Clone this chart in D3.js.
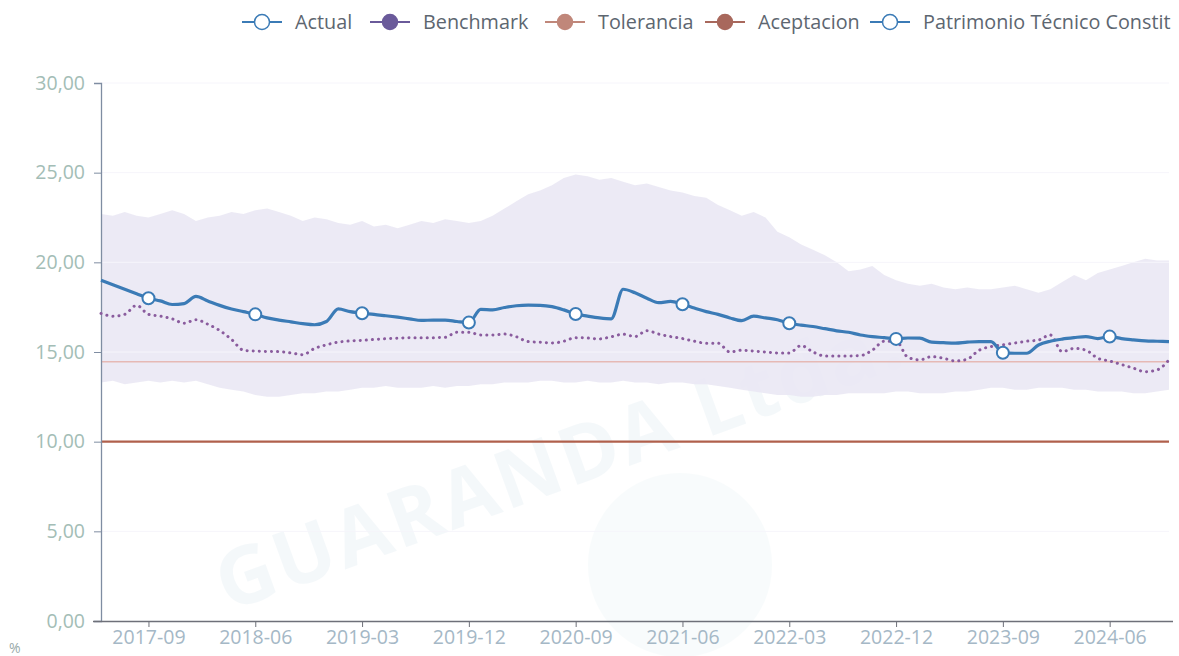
<!DOCTYPE html>
<html lang="es">
<head>
<meta charset="UTF-8">
<title>Patrimonio Técnico</title>
<script src="https://d3js.org/d3.v7.min.js"></script>
<style>
  body { margin: 0; background: #fff; font-family: "Open Sans", "Noto Sans", sans-serif; }
  svg { display: block; }
</style>
</head>
<body>
<svg id="chart" width="1179" height="656"></svg>
<script>
// monthly categories 2017-05 .. 2024-11
const months = [];
for (let k = 0; k < 91; k++) {
  const tot = 2017 * 12 + 4 + k;
  months.push(`${Math.floor(tot / 12)}-${String(tot % 12 + 1).padStart(2, "0")}`);
}

const tickLabels = ["2017-09", "2018-06", "2019-03", "2019-12", "2020-09",
  "2021-06", "2022-03", "2022-12", "2023-09", "2024-06"];
const yTicks = [0, 5, 10, 15, 20, 25, 30];

const actual = [19.0, 18.75, 18.5, 18.25, 18.0, 17.85, 17.65, 17.7, 18.1, 17.85,
  17.6, 17.4, 17.25, 17.1, 16.9, 16.78, 16.68, 16.58, 16.52, 16.7,
  17.4, 17.25, 17.16, 17.1, 17.02, 16.94, 16.85, 16.76, 16.78, 16.78,
  16.7, 16.64, 17.38, 17.35, 17.48, 17.58, 17.61, 17.6, 17.53, 17.35,
  17.12, 17.0, 16.9, 16.85, 18.5, 18.3, 18.0, 17.75, 17.82, 17.66,
  17.45, 17.25, 17.1, 16.9, 16.75, 17.0, 16.9, 16.8, 16.6, 16.5,
  16.42, 16.3, 16.18, 16.1, 15.95, 15.86, 15.8, 15.73, 15.78, 15.77,
  15.55, 15.52, 15.5, 15.55, 15.58, 15.58, 14.96, 14.93, 14.93, 15.39,
  15.6, 15.72, 15.8, 15.86, 15.75, 15.86, 15.75, 15.68, 15.62, 15.6, 15.58];

const benchmark = [17.15, 17.0, 17.1, 17.6, 17.1, 17.0, 16.85, 16.6, 16.8, 16.55,
  16.2, 15.7, 15.1, 15.05, 15.03, 15.02, 14.95, 14.85, 15.2, 15.4,
  15.55, 15.62, 15.65, 15.7, 15.74, 15.77, 15.8, 15.8, 15.8, 15.82,
  16.1, 16.1, 15.95, 15.95, 16.0, 15.85, 15.58, 15.55, 15.5, 15.6,
  15.8, 15.78, 15.73, 15.85, 15.99, 15.86, 16.19, 16.0, 15.86, 15.75,
  15.6, 15.49, 15.49, 15.0, 15.1, 15.05, 15.0, 14.95, 14.95, 15.36,
  15.0, 14.78, 14.78, 14.78, 14.8, 15.1, 15.6, 15.6, 14.7, 14.56,
  14.74, 14.65, 14.5, 14.6, 15.1, 15.3, 15.4, 15.5, 15.6, 15.67,
  15.95, 15.02, 15.2, 15.1, 14.65, 14.5, 14.3, 14.1, 13.9, 14.0, 14.56];

const tolerancia = 14.45;
const aceptacion = 10.0;

const bandUpper = [22.7, 22.6, 22.8, 22.6, 22.5, 22.7, 22.9, 22.7, 22.3, 22.5,
  22.6, 22.8, 22.7, 22.9, 23.0, 22.8, 22.6, 22.3, 22.5, 22.4,
  22.2, 22.1, 22.3, 22.0, 22.1, 21.9, 22.1, 22.3, 22.2, 22.4,
  22.3, 22.2, 22.3, 22.6, 23.0, 23.4, 23.8, 24.0, 24.3, 24.7,
  24.9, 24.8, 24.6, 24.7, 24.5, 24.3, 24.4, 24.2, 24.0, 23.9,
  23.7, 23.6, 23.2, 22.9, 22.6, 22.8, 22.5, 21.7, 21.4, 21.0,
  20.7, 20.4, 20.0, 19.5, 19.6, 19.8, 19.3, 19.0, 18.8, 18.7,
  18.8, 18.6, 18.5, 18.6, 18.5, 18.5, 18.6, 18.7, 18.5, 18.3,
  18.5, 18.9, 19.3, 19.0, 19.4, 19.6, 19.8, 20.0, 20.2, 20.1, 20.1];

const bandLower = [13.3, 13.4, 13.2, 13.3, 13.4, 13.3, 13.4, 13.3, 13.4, 13.2,
  13.0, 12.9, 12.8, 12.6, 12.5, 12.5, 12.6, 12.7, 12.7, 12.8,
  12.8, 12.9, 13.0, 13.0, 13.1, 13.0, 13.0, 13.0, 13.1, 13.0,
  13.1, 13.1, 13.2, 13.2, 13.3, 13.3, 13.3, 13.4, 13.4, 13.3,
  13.3, 13.4, 13.3, 13.3, 13.4, 13.3, 13.3, 13.2, 13.3, 13.3,
  13.2, 13.2, 13.1, 13.0, 12.9, 12.8, 12.7, 12.6, 12.6, 12.5,
  12.5, 12.6, 12.6, 12.7, 12.7, 12.7, 12.7, 12.8, 12.8, 12.7,
  12.7, 12.7, 12.8, 12.8, 12.9, 13.0, 13.0, 12.9, 12.9, 13.0,
  13.0, 13.0, 12.9, 12.9, 12.8, 12.8, 12.8, 12.7, 12.7, 12.8, 12.9];

const legendItems = [
  { name: "Actual", color: "#3b7bb6", hollow: true, x: 242 },
  { name: "Benchmark", color: "#6a5a9a", hollow: false, x: 370 },
  { name: "Tolerancia", color: "#c0877a", hollow: false, x: 545 },
  { name: "Aceptacion", color: "#a8685c", hollow: false, x: 705 },
  { name: "Patrimonio Técnico Constit", color: "#3b7bb6", hollow: true, x: 870 }
];

const svg = d3.select("#chart");
const plotLeft = 101, plotRight = 1169, plotTop = 83, plotBottom = 621;

const x = d3.scalePoint().domain(months).range([plotLeft, plotRight]);
const y = d3.scaleLinear().domain([0, 30]).range([plotBottom, plotTop]);

const rows = months.map((m, i) => ({
  m, actual: actual[i], bench: benchmark[i], hi: bandUpper[i], lo: bandLower[i]
}));

// faint watermark behind the chart
const wm = svg.append("g").attr("opacity", 0.22);
wm.append("circle").attr("cx", 680).attr("cy", 565).attr("r", 92).attr("fill", "#e2f1f3");
wm.append("text")
  .attr("transform", "translate(228,612) rotate(-20)")
  .attr("font-size", 80).attr("font-weight", 700)
  .attr("fill", "#cfe2ec").attr("letter-spacing", 3)
  .text("GUARANDA Ltda.");

// band
svg.append("path")
  .datum(rows)
  .attr("fill", "#e9e6f3")
  .attr("opacity", 0.85)
  .attr("d", d3.area().x(d => x(d.m)).y0(d => y(d.lo)).y1(d => y(d.hi)));

// faint split lines
svg.append("g")
  .selectAll("line")
  .data(yTicks.filter(t => t > 0))
  .join("line")
  .attr("x1", plotLeft).attr("x2", plotRight)
  .attr("y1", d => y(d)).attr("y2", d => y(d))
  .attr("stroke", "#f6f5fb").attr("stroke-width", 1);

// tolerancia & aceptacion
svg.append("line")
  .attr("x1", plotLeft).attr("x2", plotRight)
  .attr("y1", y(tolerancia)).attr("y2", y(tolerancia))
  .attr("stroke", "#e6b9b5").attr("stroke-width", 1.5);
svg.append("line")
  .attr("x1", plotLeft).attr("x2", plotRight)
  .attr("y1", y(aceptacion)).attr("y2", y(aceptacion))
  .attr("stroke", "#b0604c").attr("stroke-width", 2.2);

// axes
const yAxis = svg.append("g")
  .attr("transform", `translate(${plotLeft},0)`)
  .call(d3.axisLeft(y).tickValues(yTicks).tickSize(7).tickPadding(9)
    .tickFormat(d => d3.format(".2f")(d).replace(".", ",")));
yAxis.select(".domain").attr("stroke", "#7f8da2").attr("stroke-width", 1.3);
yAxis.selectAll(".tick line").attr("stroke", "#7f8da2");
yAxis.selectAll("text").attr("fill", "#a3bdb6").attr("font-size", 19.5)
  .attr("font-family", "'Open Sans', sans-serif");

const xAxis = svg.append("g")
  .attr("transform", `translate(0,${plotBottom})`)
  .call(d3.axisBottom(x).tickValues(tickLabels).tickSize(6).tickSizeOuter(0).tickPadding(3));
xAxis.select(".domain").attr("stroke", "#6e7079").attr("stroke-width", 1.5)
  .attr("d", `M${plotLeft - 8},0.5H${plotRight + 4}`);
xAxis.selectAll(".tick line").attr("stroke", "#6e7079");
xAxis.selectAll("text").attr("fill", "#a5b8c6").attr("font-size", 19.5)
  .attr("font-family", "'Open Sans', sans-serif");

svg.append("text").attr("x", 9).attr("y", 653)
  .attr("font-size", 14).attr("fill", "#9aa").text("%");

// benchmark dotted
svg.append("path")
  .datum(rows)
  .attr("fill", "none")
  .attr("stroke", "#8a5c9e")
  .attr("stroke-width", 3)
  .attr("stroke-linecap", "round")
  .attr("stroke-dasharray", "0.1 6")
  .attr("d", d3.line().curve(d3.curveMonotoneX).x(d => x(d.m)).y(d => y(d.bench)));

// actual
svg.append("path")
  .datum(rows)
  .attr("fill", "none")
  .attr("stroke", "#3b7bb6")
  .attr("stroke-width", 3.2)
  .attr("stroke-linejoin", "round")
  .attr("d", d3.line().curve(d3.curveMonotoneX).x(d => x(d.m)).y(d => y(d.actual)));

svg.append("g")
  .selectAll("circle")
  .data(rows.filter(d => tickLabels.includes(d.m)))
  .join("circle")
  .attr("cx", d => x(d.m))
  .attr("cy", d => y(d.actual))
  .attr("r", 6)
  .attr("fill", "#fff")
  .attr("stroke", "#3b7bb6")
  .attr("stroke-width", 2);

// legend
const lg = svg.append("g").attr("transform", "translate(0,22)");
legendItems.forEach(it => {
  const g = lg.append("g").attr("transform", `translate(${it.x},0)`);
  g.append("line").attr("x1", 0).attr("x2", 40).attr("y1", 0).attr("y2", 0)
    .attr("stroke", it.color).attr("stroke-width", 2);
  g.append("circle").attr("cx", 20).attr("cy", 0).attr("r", 7.5)
    .attr("fill", it.hollow ? "#fff" : it.color)
    .attr("stroke", it.color).attr("stroke-width", 1.5);
  g.append("text").attr("x", 53).attr("y", 0).attr("dy", "0.35em")
    .attr("font-size", 19.8).attr("fill", "#5d6670")
    .text(it.name);
});
</script>
</body>
</html>
